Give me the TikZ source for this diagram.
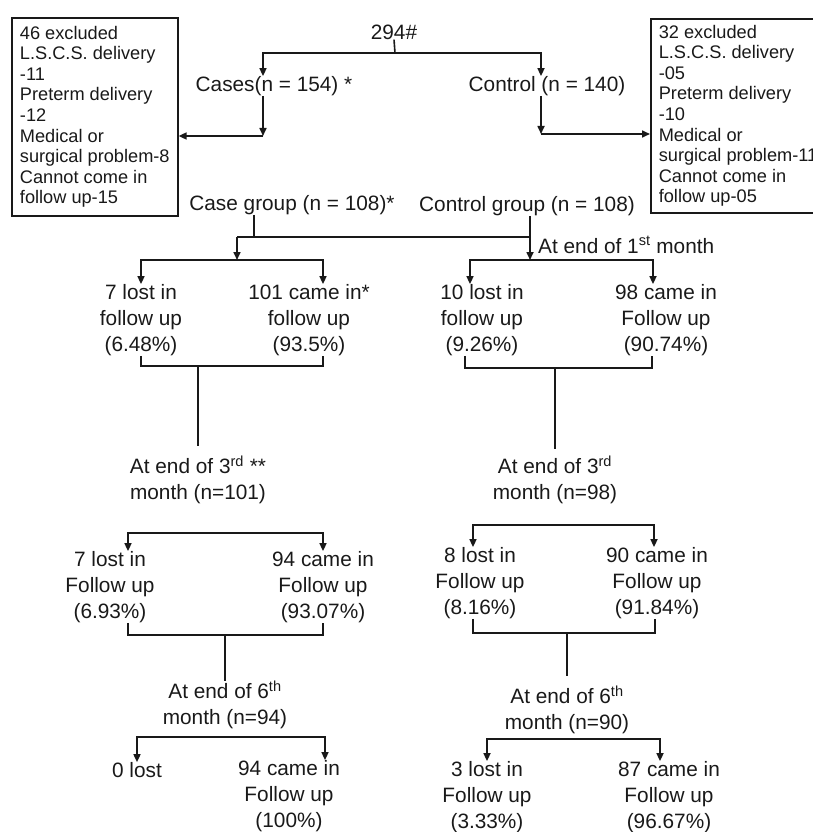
\documentclass[tikz,border=0pt]{standalone}
\usepackage{fontspec}
\setmainfont{Liberation Sans}
\usetikzlibrary{arrows.meta,positioning,calc}
\tikzset{
    stage/.style={align=center, inner sep=0pt, text=black!90, font=\fontsize{20.8}{26}\selectfont},
    excluded/.style={draw=black!90, line width=1.6pt, align=left, anchor=north west,
                     inner xsep=8pt, text=black!90, font=\fontsize{18.2}{20.6}\selectfont},
    link/.style={draw=black!90, line width=1.6pt},
    flow/.style={link, -{Triangle[length=8pt,width=7pt]}},
}

\begin{document}
\begin{tikzpicture}[x=1pt, y=-1pt]
    \useasboundingbox (0,0) rectangle (813,832);

    % Enrolled women
    \node[stage] (total) at (394,32) {294\#};
    \node[stage] (cases) at (274,86) {Cases(n = 154) *};
    \node[stage] (control) at (547,86) {Control (n = 140)};

    % Exclusions
    \node[excluded, minimum width=166pt, minimum height=198pt] (exclA) at (11,17)
        {46 excluded\\L.S.C.S. delivery\\-11\\Preterm delivery\\-12\\Medical or\\surgical problem-8\\Cannot come in\\follow up-15};
    \node[excluded, minimum height=194pt] (exclB) at (650,18)
        {32 excluded\\L.S.C.S. delivery\\-05\\Preterm delivery\\-10\\Medical or\\surgical problem-11\\Cannot come in\\follow up-05};

    % Study groups
    \node[stage] (cgroup) at (292,205) {Case group (n = 108)*};
    \node[stage] (kgroup) at (527,206) {Control group (n = 108)};
    \node[stage, anchor=west] (month1) at (538,245) {At end of 1\textsuperscript{st} month};

    % First month
    \node[stage] (lostA1) at (141,320) {7 lost in\\follow up\\(6.48\%)};
    \node[stage] (cameA1) at (309,320) {101 came in*\\follow up\\(93.5\%)};
    \node[stage] (lostK1) at (482,320) {10 lost in\\follow up\\(9.26\%)};
    \node[stage] (cameK1) at (666,320) {98 came in\\Follow up\\(90.74\%)};

    % Third month
    \node[stage] (m3A) at (198,480) {At end of 3\textsuperscript{rd} **\\month (n=101)};
    \node[stage] (m3K) at (555,480) {At end of 3\textsuperscript{rd}\\month (n=98)};
    \node[stage] (lostA3) at (110,587) {7 lost in\\Follow up\\(6.93\%)};
    \node[stage] (cameA3) at (323,587) {94 came in\\Follow up\\(93.07\%)};
    \node[stage] (lostK3) at (480,583) {8 lost in\\Follow up\\(8.16\%)};
    \node[stage] (cameK3) at (657,583) {90 came in\\Follow up\\(91.84\%)};

    % Sixth month
    \node[stage] (m6A) at (225,705) {At end of 6\textsuperscript{th}\\month (n=94)};
    \node[stage] (m6K) at (567,710) {At end of 6\textsuperscript{th}\\month (n=90)};
    \node[stage] (lostA6) at (137,770) {0 lost};
    \node[stage] (cameA6) at (289,796) {94 came in\\Follow up\\(100\%)};
    \node[stage] (lostK6) at (487,797) {3 lost in\\Follow up\\(3.33\%)};
    \node[stage] (cameK6) at (669,797) {87 came in\\Follow up\\(96.67\%)};

    % Split of enrolled women
    \coordinate (split0) at (395,53);
    \draw[link] (total.south) -- (split0);
    \draw[flow] (split0) -| ([xshift=-11pt]cases.north);
    \draw[flow] (split0) -| ([xshift=-6pt]control.north);

    % To exclusions
    \coordinate (exA) at (263,136);
    \coordinate (exB) at (541,134);
    \draw[flow] ([xshift=-11pt]cases.south) -- (exA);
    \draw[flow] (exA) -- (exclA.east |- exA);
    \draw[flow] ([xshift=-6pt]control.south) -- (exB);
    \draw[flow] (exB) -- (exclB.west |- exB);

    % Groups to first month
    \coordinate (joinA) at (254,237);
    \coordinate (dropA) at (237,237);
    \coordinate (dropK) at (530,237);
    \coordinate (splitA1) at (237,260);
    \coordinate (splitK1) at (530,260);
    \draw[link] (joinA |- cgroup.south) -- (joinA);
    \draw[link] (dropA) -- (dropK);
    \draw[flow] (dropA) -- (splitA1);
    \draw[flow] (dropK |- kgroup.south) -- (splitK1);
    \draw[flow] (splitA1) -| (lostA1.north);
    \draw[flow] (splitA1) -| ([xshift=14pt]cameA1.north);
    \draw[flow] (splitK1) -| ([xshift=-12pt]lostK1.north);
    \draw[flow] (splitK1) -| ([xshift=-13pt]cameK1.north);

    % First month to third month
    \coordinate (mergeA1) at (198,366);
    \coordinate (mergeK1) at (555,368);
    \draw[link] (lostA1.south) |- (mergeA1) -| ([xshift=14pt]cameA1.south);
    \draw[link] (mergeA1) -- ([yshift=10pt]m3A.north);
    \draw[link] ([xshift=-17pt]lostK1.south) |- (mergeK1) -| ([xshift=-14pt]cameK1.south);
    \draw[link] (mergeK1) -- ([yshift=7pt]m3K.north);

    \coordinate (splitA3) at (225,533);
    \coordinate (splitK3) at (563,525);
    \draw[flow] (splitA3) -| ([xshift=18pt]lostA3.north);
    \draw[flow] (splitA3) -| (cameA3.north);
    \draw[flow] (splitK3) -| ([xshift=-7pt]lostK3.north);
    \draw[flow] (splitK3) -| ([xshift=-3pt]cameK3.north);

    % Third month to sixth month
    \coordinate (mergeA3) at (225,635);
    \coordinate (mergeK3) at (567,633);
    \draw[link] ([xshift=18pt]lostA3.south) |- (mergeA3) -| (cameA3.south);
    \draw[link] (mergeA3) -- (m6A.north);
    \draw[link] ([xshift=-7pt]lostK3.south) |- (mergeK3) -| ([xshift=-2pt]cameK3.south);
    \draw[link] (mergeK3) -- ([yshift=10pt]m6K.north);

    \coordinate (splitA6) at (231,737);
    \coordinate (splitK6) at (573,739);
    \draw[flow] (splitA6) -| (lostA6.north);
    \draw[flow] (splitA6) -| ([xshift=36pt]cameA6.north);
    \draw[flow] (splitK6) -| (lostK6.north);
    \draw[flow] (splitK6) -| ([xshift=-9pt]cameK6.north);
\end{tikzpicture}
\end{document}
